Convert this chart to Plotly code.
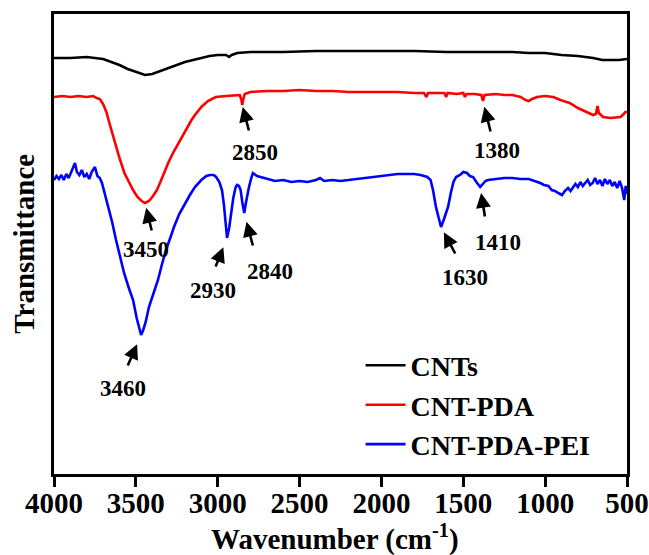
import numpy as np
import plotly.graph_objects as go

# ---------------- data (transmittance, arbitrary units) ----------------
wn_cnts = [4000, 3900, 3800, 3750, 3700, 3650, 3600, 3550, 3500, 3444, 3400, 3350, 3300,
           3250, 3200, 3150, 3100, 3050, 3000, 2950, 2930, 2915, 2880, 2800, 2600, 2400,
           2200, 2000, 1800, 1600, 1400, 1300, 1200, 1100, 1000, 900, 800, 707, 650, 600,
           550, 500]
t_cnts = [41.6, 41.6, 41.7, 41.6, 41.5, 41.2, 40.9, 40.5, 40.2, 39.9, 40.0, 40.3, 40.6,
          40.9, 41.2, 41.4, 41.6, 41.8, 41.9, 41.9, 41.7, 41.9, 42.1, 42.2, 42.2, 42.3,
          42.3, 42.3, 42.3, 42.2, 42.2, 42.2, 42.2, 42.1, 42.1, 41.9, 41.8, 41.6, 41.4, 41.4,
          41.4, 41.5]

wn_pda = [4000, 3950, 3900, 3850, 3800, 3760, 3740, 3720, 3700, 3680, 3660, 3633, 3600,
          3570, 3540, 3517, 3490, 3465, 3444, 3420, 3395, 3371, 3350, 3328, 3300, 3270,
          3230, 3190, 3160, 3139, 3100, 3060, 3012, 2950, 2900, 2865, 2855, 2850, 2845,
          2835, 2800, 2700, 2600, 2500, 2400, 2300, 2200, 2100, 2000, 1900, 1800, 1740,
          1725, 1715, 1650, 1615, 1605, 1595, 1540, 1500, 1490, 1480, 1430, 1390, 1380,
          1370, 1300, 1250, 1200, 1150, 1120, 1100, 1080, 1050, 1000, 950, 907, 850, 800,
          750, 707, 690, 680, 672, 646, 600, 540, 520, 510, 500]
t_pda = [37.7, 37.8, 37.7, 37.8, 37.7, 37.8, 37.6, 37.5, 37.0, 36.2, 35.0, 33.4, 31.6,
         30.1, 29.1, 28.4, 27.7, 27.3, 27.1, 27.3, 27.8, 28.4, 29.2, 30.1, 31.2, 32.2,
         33.4, 34.6, 35.4, 35.9, 36.7, 37.3, 37.7, 37.8, 37.9, 37.9, 37.4, 36.9, 37.4,
         38.0, 38.2, 38.3, 38.3, 38.4, 38.3, 38.3, 38.2, 38.2, 38.2, 38.2, 38.1, 38.1,
         37.7, 38.1, 38.1, 38.1, 37.7, 38.1, 38.0, 38.1, 37.7, 38.0, 38.0, 37.9, 37.3,
         37.9, 38.0, 37.9, 37.9, 37.7, 37.4, 37.3, 37.5, 37.7, 37.8, 37.7, 37.4, 37.1, 36.6,
         36.2, 35.9, 36.0, 36.8, 36.1, 35.7, 35.6, 35.7, 36.0, 36.2, 36.2]

wn_pei = [4000, 3985, 3970, 3955, 3940, 3925, 3910, 3895, 3885, 3872, 3860, 3845, 3830,
          3815, 3800, 3785, 3770, 3750, 3735, 3720, 3707, 3690, 3670, 3645, 3621, 3595,
          3572, 3545, 3517, 3495, 3480, 3468, 3455, 3440, 3420, 3390, 3365, 3340, 3316,
          3290, 3267, 3235, 3200, 3170, 3139, 3100, 3070, 3047, 3025, 3010, 2990, 2974,
          2962, 2952, 2943, 2930, 2920, 2905, 2890, 2882, 2870, 2860, 2850, 2838, 2828,
          2818, 2809, 2795, 2785, 2760, 2700, 2650, 2600, 2550, 2500, 2450, 2400, 2375,
          2350, 2300, 2250, 2200, 2150, 2100, 2050, 2000, 1950, 1900, 1850, 1800, 1760,
          1720, 1700, 1685, 1667, 1650, 1636, 1620, 1605, 1593, 1575, 1560, 1544, 1520,
          1500, 1477, 1460, 1440, 1420, 1397, 1380, 1365, 1349, 1300, 1250, 1200, 1150,
          1100, 1060, 1030, 1007, 980, 960, 940, 920, 897, 880, 860, 845, 830, 815, 800,
          785, 770, 755, 740, 725, 710, 695, 680, 665, 650, 635, 620, 605, 590, 575, 560,
          545, 530, 517, 508, 500]
t_pei = [29.4, 29.8, 29.5, 29.9, 29.4, 30.0, 29.6, 30.2, 30.6, 31.1, 30.2, 29.9, 30.4,
         29.7, 30.0, 29.5, 30.2, 30.7, 29.8, 29.6, 29.1, 28.1, 26.7, 25.2, 23.4, 21.7,
         20.1, 18.7, 17.4, 15.6, 14.6, 13.9, 14.4, 15.2, 16.7, 18.2, 19.4, 21.0, 22.4,
         23.6, 24.7, 26.0, 27.1, 27.9, 28.7, 29.4, 29.8, 29.9, 29.9, 29.7, 29.2, 28.4,
         26.9, 25.2, 23.6, 24.6, 25.9, 27.6, 28.7, 28.9, 28.8, 28.4, 27.2, 26.1, 27.1,
         28.2, 28.7, 29.6, 30.1, 29.8, 29.5, 29.3, 29.4, 29.2, 29.3, 29.2, 29.4, 29.6,
         29.3, 29.4, 29.3, 29.4, 29.5, 29.6, 29.7, 29.8, 29.9, 30.0, 30.0, 30.0, 29.9,
         29.7, 29.4, 28.4, 26.7, 25.6, 24.7, 25.4, 26.2, 26.7, 28.2, 29.2, 29.7, 29.9,
         30.2, 30.1, 29.8, 29.7, 29.2, 28.7, 29.0, 29.3, 29.4, 29.5, 29.6, 29.6, 29.5,
         29.5, 29.3, 29.1, 28.9, 28.8, 28.4, 28.3, 28.1, 27.9, 28.3, 28.6, 28.3, 28.7, 29.0,
         28.7, 29.2, 28.8, 29.1, 29.4, 28.9, 29.1, 29.6, 29.0, 29.4, 28.8, 29.5, 29.0, 29.4,
         28.8, 29.2, 28.6, 29.3, 28.6, 27.4, 28.8, 28.0]

series_names = ["CNTs", "CNT-PDA", "CNT-PDA-PEI"]
series_colors = ["#000000", "#ff0000", "#0000ff"]

x_ticks = [4000, 3500, 3000, 2500, 2000, 1500, 1000, 500]

# peak labels: (label, series index, nominal wavenumber)
peak_labels = ["3450", "2850", "1380", "3460", "2930", "2840", "1630", "1410"]
peak_series = [1, 1, 1, 2, 2, 2, 2, 2]
peak_wn = [3450, 2850, 1380, 3460, 2930, 2840, 1630, 1410]

# styling of each arrow: tail offset (px), standoff (px), label offset (px)
arrow_style = [
    (7, 29, 5, 1, 46),
    (7, 27, 2, 13, 47),
    (8, 32, 6, 14, 49),
    (-14, 32, 10, -18, 53),
    (-12, 30, 10, -14, 52),
    (9, 34, 9, 26, 58),
    (15, 28, 6, 24, 50),
    (5, 31, 6, 18, 55),
]

FONT = "Liberation Serif"

wns = [wn_cnts, wn_pda, wn_pei]
ts = [t_cnts, t_pda, t_pei]

fig = go.Figure()
for i in range(3):
    fig.add_trace(go.Scatter(
        x=wns[i], y=ts[i], mode="lines", name="<b>" + series_names[i] + "</b>",
        line=dict(color=series_colors[i], width=2.6),
        legendgroup=series_names[i],
    ))


def local_min(wn, t, center, half=30):
    wn = np.asarray(wn, float)
    t = np.asarray(t, float)
    m = (wn >= center - half) & (wn <= center + half)
    idx = np.where(m)[0]
    j = idx[np.argmin(t[idx])]
    return wn[j], t[j]


for lab, si, w, st in zip(peak_labels, peak_series, peak_wn, arrow_style):
    px, py = local_min(wns[si], ts[si], w)
    ax, ay, so, lx, ly = st
    fig.add_annotation(x=px, y=py, xref="x", yref="y", text="", showarrow=True,
                       ax=ax, ay=ay, standoff=so, arrowhead=2, arrowsize=1.15,
                       arrowwidth=2.6, arrowcolor="black")
    fig.add_annotation(x=px, y=py, xref="x", yref="y", text="<b>" + lab + "</b>",
                       showarrow=False,
                       xshift=lx, yshift=-ly, xanchor="center", yanchor="middle",
                       font=dict(family=FONT, size=23, color="black"))

fig.add_annotation(x=-0.053, y=0.5, xref="paper", yref="paper",
                   text="<b>Transmittance</b>",
                   textangle=-90, showarrow=False, xanchor="center", yanchor="middle",
                   font=dict(family=FONT, size=29, color="black"))

fig.add_annotation(x=0.49, y=-0.138, xref="paper", yref="paper",
                   text="<b>Wavenumber (cm<sup>-1</sup>)</b>",
                   showarrow=False, xanchor="center", yanchor="middle",
                   font=dict(family=FONT, size=29, color="black"))

fig.update_xaxes(
    range=[4000, 500], tickvals=x_ticks,
    ticktext=["<b>%d</b>" % v for v in x_ticks],
    ticks="outside", ticklen=10, tickwidth=2.6, tickcolor="black",
    ticklabelstandoff=-9,
    showline=True, linecolor="black", linewidth=2.6, mirror=True,
    showgrid=False, zeroline=False, automargin=False,
    tickfont=dict(family=FONT, size=29, color="black"),
)
fig.update_yaxes(
    range=[0, 46], showticklabels=False, ticks="",
    showline=True, linecolor="black", linewidth=2.6, mirror=True,
    showgrid=False, zeroline=False, automargin=False,
)

fig.update_layout(
    width=649, height=555,
    margin=dict(l=54, r=22, t=14, b=81),
    paper_bgcolor="white", plot_bgcolor="white",
    showlegend=True,
    legend=dict(x=0.535, y=0.29, xanchor="left", yanchor="top",
                bgcolor="rgba(0,0,0,0)", borderwidth=0,
                font=dict(family=FONT, size=28, color="black"),
                tracegroupgap=0, itemwidth=40),
)

fig.write_html("out.html")
